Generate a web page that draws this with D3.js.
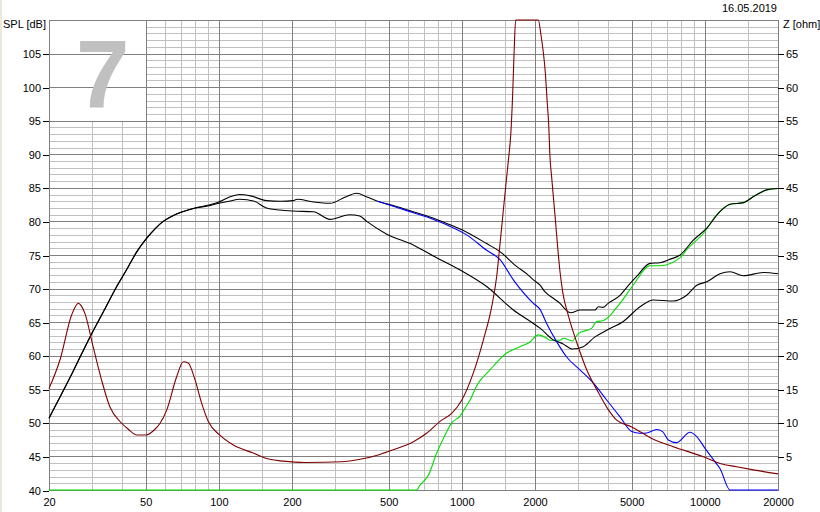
<!DOCTYPE html>
<html lang="en">
<head>
    <meta charset="UTF-8">
    <title>SPL and impedance</title>
    <script src="https://cdn.jsdelivr.net/npm/d3@7"></script>
    <style>
        body {
            margin: 0;
            background: #fff;
        }

        text {
            font-family: "Liberation Sans", Arial, sans-serif;
            font-size: 11px;
            fill: #000;
        }

        .minor {
            stroke: #c0c0c0;
            stroke-width: 1;
            shape-rendering: crispEdges;
        }

        .major {
            stroke: #808080;
            stroke-width: 1;
            shape-rendering: crispEdges;
        }

        .curve {
            fill: none;
            stroke-width: 1.1;
            stroke-linejoin: round;
        }
    </style>
</head>
<body>
<script>
    //frequency axis
    const freqMajor = [50, 100, 200, 500, 1000, 2000, 5000, 10000];
    const freqMinor = [30, 40, 60, 70, 80, 90, 150, 300, 400, 600, 700, 800, 900,
        1500, 3000, 4000, 6000, 7000, 8000, 9000, 15000];
    const freqLabels = [20, 50, 100, 200, 500, 1000, 2000, 5000, 10000, 20000];
    const splTicks = [40, 45, 50, 55, 60, 65, 70, 75, 80, 85, 90, 95, 100, 105];
    const zTicks = [5, 10, 15, 20, 25, 30, 35, 40, 45, 50, 55, 60, 65];

    //SPL curves [Hz, dB]
    const splUpper = [[20, 50.7], [25, 57.5], [29.5, 62.8], [34, 67], [38, 70.3], [42, 73], [46, 75.5],
        [50.5, 77.5], [55, 79], [59, 80], [65, 80.9], [71, 81.45], [80, 82], [90, 82.4], [100, 82.9],
        [110, 83.6], [122, 84.0], [135, 83.8], [157, 83.1], [180, 83.0], [202, 83.1], [210, 83.3],
        [245, 82.9], [287, 82.7], [330, 83.6], [369, 84.2], [410, 83.6], [460, 82.9], [530, 82.3],
        [631, 81.45], [750, 80.6], [867, 79.7], [1047, 78.4], [1265, 76.7], [1436, 75.5],
        [1681, 73.3], [1850, 72.2], [1969, 71.3], [2097, 70.5], [2200, 69.5], [2379, 68.55], [2535, 67.8],
        [2650, 67.0], [2804, 66.4], [3063, 66.8], [3300, 66.8], [3531, 66.8], [3645, 67.3], [3800, 67.2],
        [4000, 67.8], [4477, 69.0], [4800, 70.3], [5240, 71.8], [5944, 73.75], [6534, 73.85], [7100, 74.3],
        [7906, 75.0], [8963, 77.2], [10180, 79.0], [11540, 81.45], [12696, 82.55], [14400, 82.8],
        [16000, 83.8], [17960, 84.7], [20000, 84.9]];

    const splLower = [[20, 50.7], [25, 57.5], [29.5, 62.8], [34, 67], [38, 70.3], [42, 73], [46, 75.5],
        [50.5, 77.5], [55, 79], [59, 80], [65, 80.9], [71, 81.45], [80, 82], [90, 82.3], [100, 82.7],
        [110, 83.0], [122, 83.3], [140, 83.0], [157, 82.0], [178, 81.7], [202, 81.55], [245, 81.45],
        [287, 80.3], [346, 81.0], [380, 80.8], [406, 80.0], [491, 78.1], [631, 76.5], [763, 74.85],
        [980, 72.8], [1265, 70.3], [1629, 66.8], [1969, 64.8], [2097, 64.1], [2379, 62.35], [2600, 61.8],
        [2848, 61.0], [3160, 61.35], [3531, 62.8], [3944, 63.8], [4617, 65.1], [5409, 67.3], [6140, 68.3],
        [7416, 68.15], [8418, 69.0], [9259, 70.5], [10180, 71.0], [11540, 72.2], [12696, 72.5],
        [14400, 71.9], [17380, 72.4], [20000, 72.2]];

    const splBlue = [[450, 83.0], [530, 82.2], [631, 81.3], [750, 80.4], [867, 79.5],
        [1047, 78.0], [1265, 75.7], [1436, 74.3], [1629, 71.3], [1969, 67.8], [2097, 66.9], [2233, 64.8],
        [2455, 62.1], [2694, 59.85], [3063, 57.9], [3500, 55.8], [3944, 53.4], [4477, 50.9], [5000, 48.7],
        [5400, 48.45], [5764, 48.5], [6334, 49.0], [6700, 48.7], [7074, 47.45], [7656, 47.05], [8690, 48.6],
        [9259, 47.95], [10016, 46.2], [11014, 44.2], [11540, 43.2], [12696, 40], [20000, 40]];

    const splGreen = [[20, 40], [653, 40], [672, 40.7], [705, 41.5], [728, 42.2], [788, 45.5], [853, 48.2],
        [908, 50.0], [983, 51.0], [1031, 52.2], [1081, 53.4], [1150, 55.5], [1306, 57.9], [1530, 60.4],
        [1735, 61.35], [1900, 62], [2063, 63.1], [2233, 62.6], [2305, 62.3], [2535, 62.3], [2614, 62.6],
        [2848, 62.2], [3013, 63.3], [3423, 64.1], [3589, 65.1], [3800, 65.2], [4477, 67.8], [5068, 70.5],
        [5944, 73.4], [6534, 73.4], [7906, 74.6], [8418, 75.8], [9855, 78.2], [11185, 81.0], [12696, 82.55],
        [14400, 82.8], [16000, 83.8], [17960, 84.7], [20000, 84.9]];

    //impedance [Hz, ohm]
    const impedance = [[20, 15.1], [22.2, 19.4], [24.8, 26.1], [26.4, 27.8], [28.1, 26.3], [30.4, 21.3],
        [32.9, 16.4], [35.6, 12.4], [39.2, 10.2], [42.4, 9.05], [46, 8.2], [50, 8.2], [54.6, 9.05],
        [57.2, 9.9], [61, 11.9], [67.1, 16.9], [71.4, 19.1], [74.8, 18.9], [79.8, 16.4], [85, 12.9],
        [90.5, 10.2], [100.7, 8.2], [114.7, 6.7], [138.6, 5.5], [162, 4.57], [184, 4.3], [226, 4.1],
        [320, 4.2], [381, 4.57], [460, 5.3], [522, 6.0], [632, 7.2], [716, 8.45], [826, 10.4], [908, 11.4],
        [1000, 13.4], [1114, 17.4], [1225, 22.3], [1327, 27.3], [1391, 31.8], [1436, 36.7], [1482, 41.7],
        [1530, 46.7], [1555, 49.2], [1590, 53], [1618, 58.8], [1643, 65.8], [1665, 70], [1850, 95],
        [2063, 70], [2116, 67.8], [2162, 65.3], [2204, 62.3], [2245, 57.8], [2281, 53.9], [2302, 50],
        [2343, 46.5], [2416, 41], [2535, 32.5], [2600, 29.5], [2742, 26], [2969, 22], [3264, 17.9],
        [3650, 14.5], [4000, 12], [4335, 10.4], [5000, 9.4], [6140, 7.55], [7416, 6.45], [9855, 4.95],
        [11540, 3.96], [13530, 3.46], [15830, 3.0], [20000, 2.4]];

    const width = 820;
    const height = 512;
    const plotLeft = 49, plotRight = 778, plotTop = 20, plotBottom = 490;

    const x = d3.scaleLog().domain([20, 20000]).range([plotLeft, plotRight]);
    const ySpl = d3.scaleLinear().domain([40, 110]).range([plotBottom, plotTop]);
    const yZ = d3.scaleLinear().domain([0, 70]).range([plotBottom, plotTop]);

    //snap to pixel for crisp 1px lines
    const px = v => Math.round(v) + 0.5;

    const svg = d3.select("body").append("svg")
        .attr("width", width)
        .attr("height", height);

    svg.append("rect").attr("width", width).attr("height", height).attr("fill", "#fff");
    svg.append("rect").attr("width", 2).attr("height", height).attr("fill", "#ece9d8");

    drawGrid(svg.append("g"));
    drawAxes(svg);
    drawCurves(svg.append("g"));

    function drawGrid(g) {
        //1 dB minor rows, 5 dB major rows
        const rows = d3.range(41, 110).filter(d => d % 5 !== 0);
        g.selectAll("line.hminor").data(rows).enter().append("line")
            .attr("class", "minor")
            .attr("x1", plotLeft).attr("x2", plotRight)
            .attr("y1", d => px(ySpl(d))).attr("y2", d => px(ySpl(d)));

        g.selectAll("line.vminor").data(freqMinor).enter().append("line")
            .attr("class", "minor")
            .attr("x1", d => px(x(d))).attr("x2", d => px(x(d)))
            .attr("y1", plotTop).attr("y2", plotBottom);

        //blank box behind the big number
        g.append("rect")
            .attr("x", px(x(20)))
            .attr("y", px(ySpl(110)))
            .attr("width", px(x(50)) - px(x(20)))
            .attr("height", px(ySpl(95)) - px(ySpl(110)))
            .attr("fill", "#fff");

        g.selectAll("line.hmajor").data(d3.range(45, 110, 5)).enter().append("line")
            .attr("class", "major")
            .attr("x1", plotLeft).attr("x2", plotRight)
            .attr("y1", d => px(ySpl(d))).attr("y2", d => px(ySpl(d)));

        g.selectAll("line.vmajor").data(freqMajor).enter().append("line")
            .attr("class", "major")
            .attr("x1", d => px(x(d))).attr("x2", d => px(x(d)))
            .attr("y1", plotTop).attr("y2", plotBottom);

        g.append("rect")
            .attr("x", px(plotLeft)).attr("y", px(plotTop))
            .attr("width", px(plotRight) - px(plotLeft))
            .attr("height", px(plotBottom) - px(plotTop))
            .attr("fill", "none")
            .attr("class", "major");

        g.append("text")
            .attr("x", 76)
            .attr("y", 108)
            .style("font-size", "96px")
            .style("font-weight", "bold")
            .style("fill", "#c0c0c0")
            .text("7");
    }

    function drawAxes(svg) {
        const leftAxis = svg.append("g")
            .attr("transform", "translate(" + plotLeft + ",0.5)")
            .call(d3.axisLeft(ySpl).tickValues(splTicks).tickSize(6).tickPadding(2));

        const rightAxis = svg.append("g")
            .attr("transform", "translate(" + plotRight + ",0.5)")
            .call(d3.axisRight(yZ).tickValues(zTicks).tickSize(6).tickPadding(2));

        const bottomAxis = svg.append("g")
            .attr("transform", "translate(0," + plotBottom + ")")
            .call(d3.axisBottom(x).tickValues(freqLabels).tickSize(0).tickPadding(8).tickFormat(d => d));

        [leftAxis, rightAxis, bottomAxis].forEach(a => {
            a.attr("font-size", null).attr("font-family", null);
            a.select(".domain").remove();
            a.selectAll("line").attr("stroke", "#000").attr("shape-rendering", "crispEdges");
        });

        svg.append("text").attr("x", 3).attr("y", 28).text("SPL [dB]");
        svg.append("text").attr("x", 783).attr("y", 28).text("Z [ohm]");
        svg.append("text").attr("x", 777).attr("y", 12).attr("text-anchor", "end").text("16.05.2019");
    }

    function drawCurves(g) {
        const splLine = d3.line()
            .x(d => x(d[0]))
            .y(d => ySpl(d[1]))
            .curve(d3.curveMonotoneX);

        //impedance is cut flat at the top of the frame
        const zLine = d3.line()
            .x(d => x(d[0]))
            .y(d => yZ(Math.min(d[1], 70)))
            .curve(d3.curveMonotoneX);

        g.append("path").attr("class", "curve").attr("stroke", "#00dd00").attr("d", splLine(splGreen));
        g.append("path").attr("class", "curve").attr("stroke", "#000").attr("d", splLine(splLower));
        g.append("path").attr("class", "curve").attr("stroke", "#000").attr("d", splLine(splUpper));
        g.append("path").attr("class", "curve").attr("stroke", "#0000ff").attr("d", splLine(splBlue));
        g.append("path").attr("class", "curve").attr("stroke", "#800000").attr("d", zLine(impedance));
    }
</script>
</body>
</html>
